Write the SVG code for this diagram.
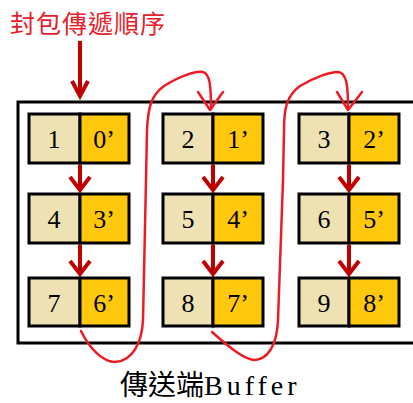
<svg xmlns="http://www.w3.org/2000/svg" width="413" height="403" viewBox="0 0 413 403">
<style>
.lc{fill:#EEE2B4;stroke:#000;stroke-width:3}
.rc{fill:#FFC80C;stroke:#000;stroke-width:3}
.num{font-family:"Liberation Serif",serif;font-size:26px;fill:#000;text-anchor:middle}
.dark{fill:none;stroke:#C00000;stroke-width:4;stroke-linejoin:miter}
.curve{fill:none;stroke:#ED1C24;stroke-width:2.5;stroke-linecap:round;stroke-linejoin:round}
</style>
<rect width="413" height="403" fill="#fff"/>
<text x="10" y="33" font-family="Noto Sans CJK TC, sans-serif" font-size="25" fill="#E8202A" letter-spacing="1">封包傳遞順序</text>
<rect id="buffer" x="18" y="102" width="400" height="241" fill="#fff" stroke="#000" stroke-width="3"/>
<g id="cell-1"><rect class="lc" x="29" y="114" width="51" height="49"/><rect class="rc" x="80" y="114" width="49" height="49"/><text class="num" x="54" y="148">1</text><text class="num" x="104" y="148">0’</text></g>
<g id="cell-4"><rect class="lc" x="29" y="194" width="51" height="49"/><rect class="rc" x="80" y="194" width="49" height="49"/><text class="num" x="54" y="228">4</text><text class="num" x="104" y="228">3’</text></g>
<g id="cell-7"><rect class="lc" x="29" y="278" width="51" height="48"/><rect class="rc" x="80" y="278" width="49" height="48"/><text class="num" x="54" y="312">7</text><text class="num" x="104" y="312">6’</text></g>
<g id="cell-2"><rect class="lc" x="163" y="114" width="50" height="49"/><rect class="rc" x="213" y="114" width="50" height="49"/><text class="num" x="188" y="148">2</text><text class="num" x="238" y="148">1’</text></g>
<g id="cell-5"><rect class="lc" x="163" y="194" width="50" height="49"/><rect class="rc" x="213" y="194" width="50" height="49"/><text class="num" x="188" y="228">5</text><text class="num" x="238" y="228">4’</text></g>
<g id="cell-8"><rect class="lc" x="163" y="278" width="50" height="48"/><rect class="rc" x="213" y="278" width="50" height="48"/><text class="num" x="188" y="312">8</text><text class="num" x="238" y="312">7’</text></g>
<g id="cell-3"><rect class="lc" x="299" y="114" width="50" height="49"/><rect class="rc" x="349" y="114" width="50" height="49"/><text class="num" x="324" y="148">3</text><text class="num" x="374" y="148">2’</text></g>
<g id="cell-6"><rect class="lc" x="299" y="194" width="50" height="49"/><rect class="rc" x="349" y="194" width="50" height="49"/><text class="num" x="324" y="228">6</text><text class="num" x="374" y="228">5’</text></g>
<g id="cell-9"><rect class="lc" x="299" y="278" width="50" height="48"/><rect class="rc" x="349" y="278" width="50" height="48"/><text class="num" x="324" y="312">9</text><text class="num" x="374" y="312">8’</text></g>
<g id="connectors">
<path class="dark" d="M80,41 V96 M72,81 L80,96 L88,81"/>
<path class="dark" d="M80,165 V190 M70,177 L80,190 L90,177"/>
<path class="dark" d="M80,245 V274 M70,261 L80,274 L90,261"/>
<path class="dark" d="M213,165 V190 M203,177 L213,190 L223,177"/>
<path class="dark" d="M213,245 V274 M203,261 L213,274 L223,261"/>
<path class="dark" d="M349,165 V190 M339,177 L349,190 L359,177"/>
<path class="dark" d="M349,245 V274 M339,261 L349,274 L359,261"/>
<path class="curve" d="M81,331 C90,350 104,362 115,362 C133,361 142,342 143,320 L146,180 L147,130 C148,110 150,96 164,86 C180,76 195,71 203,72 C210,74 211,86 211,109"/>
<path class="curve" d="M198,92 L210,110 L223,92"/>
<path class="curve" d="M212,332 C230,348 245,360 255,360 C268,359 277,345 278,320 L283,180 L284,130 C284,110 286,96 300,86 C315,77 330,72 338,72 C347,73 348,86 348,109"/>
<path class="curve" d="M337,92 L348,110 L362,92"/>
</g>
<text x="120" y="395" font-family="Noto Sans CJK TC, sans-serif" font-size="28" fill="#000">傳送端<tspan font-family="Liberation Serif, serif" letter-spacing="4">Buffer</tspan></text>
</svg>
